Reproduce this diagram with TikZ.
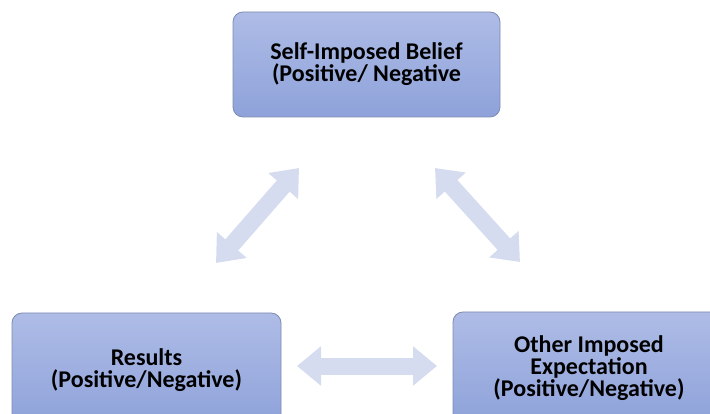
\documentclass[tikz,border=0pt]{standalone}
\usepackage{fontspec}
\setmainfont{Carlito}
\usetikzlibrary{arrows.meta}
\definecolor{boxtop}{HTML}{AEBCE6}
\definecolor{boxbot}{HTML}{8EA2DA}
\definecolor{boxline}{HTML}{7D8BB0}
\definecolor{arrowfill}{HTML}{D5DCEF}
\tikzset{
  stage/.style={rectangle, rounded corners=10pt, draw=boxline, line width=0.8pt,
    top color=boxtop, bottom color=boxbot, align=center,
    font=\fontsize{24}{22}\selectfont\bfseries, inner sep=0pt},
  twoway/.style={line width=17pt, arrowfill,
    {Triangle[length=24pt,width=38pt]}-{Triangle[length=24pt,width=38pt]}},
}
\begin{document}
\begin{tikzpicture}[x=1pt,y=-1pt]
\useasboundingbox (0,0) rectangle (710,414);
\clip (0,0) rectangle (710,414);
% the three stages
\node[stage, minimum width=267pt, minimum height=105pt] (belief) at (366.5,64.5)
  {Self-Imposed Belief\\(Positive/ Negative};
\node[stage, minimum width=269pt, minimum height=114pt] (results) at (146.5,370)
  {Results\\(Positive/Negative)};
\node[stage, minimum width=272pt, minimum height=112pt] (other) at (589,368)
  {Other Imposed\\Expectation\\(Positive/Negative)};
% arrow end points between the stages
\coordinate (bl) at (299,168);
\coordinate (lb) at (216,263);
\coordinate (br) at (435,168);
\coordinate (rb) at (520,262);
\coordinate (lr) at (297,366);
\coordinate (rl) at (437,366);
% two-way arrows
\draw[twoway] (lb) -- (bl);
\draw[twoway] (br) -- (rb);
\draw[twoway] (lr) -- (rl);
\end{tikzpicture}
\end{document}
